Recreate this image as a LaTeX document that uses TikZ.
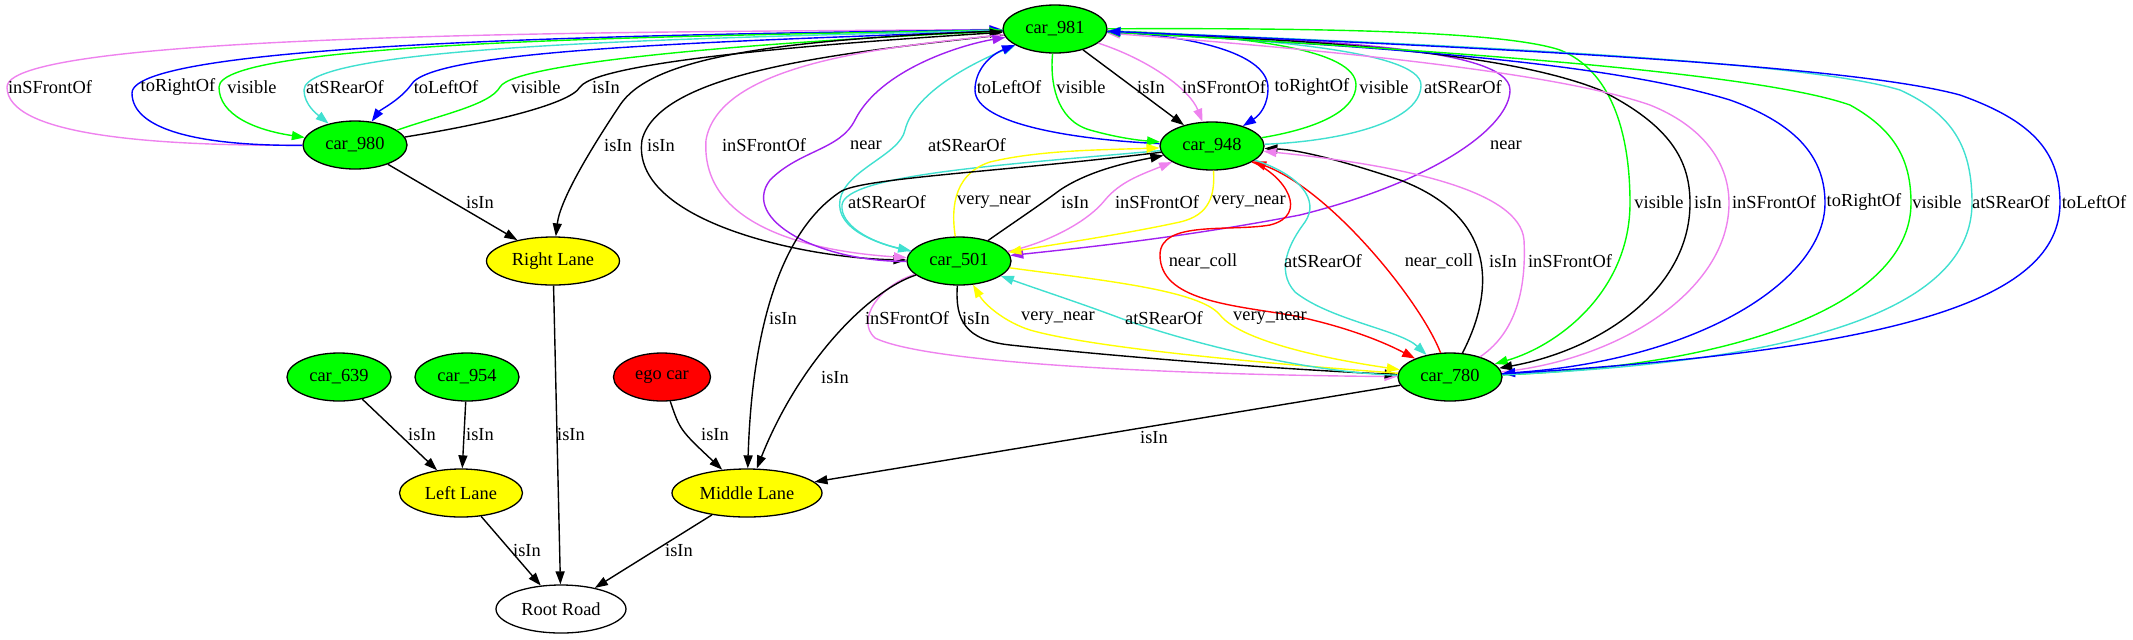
\documentclass[tikz,border=0pt]{standalone}
\usepackage{fontspec}
\setmainfont{Liberation Serif}
\usetikzlibrary{arrows.meta, shapes.geometric}
\definecolor{gvgreen}{RGB}{0,255,0}
\definecolor{gvyellow}{RGB}{255,255,0}
\definecolor{gvred}{RGB}{255,0,0}
\definecolor{gvblue}{RGB}{0,0,255}
\definecolor{gvviolet}{RGB}{238,130,238}
\definecolor{gvturq}{RGB}{64,224,208}
\definecolor{gvpurple}{RGB}{160,32,240}
\newcommand{\gvfont}{\fontsize{9.2}{11}\selectfont}
\tikzset{
  obj/.style  = {ellipse, draw, line width=0.65pt, inner sep=0pt,
                 minimum width=52pt, minimum height=24pt, font=\gvfont},
  car/.style  = {obj, fill=gvgreen},
  lane/.style = {obj, fill=gvyellow},
  rel/.style  = {->, >={Triangle[length=6.5pt, width=4.5pt]}, line width=0.7pt},
  lbl/.style  = {inner sep=0pt, font=\gvfont},
}

\begin{document}
\begin{tikzpicture}[x=0.5pt, y=-0.5pt]
  \useasboundingbox (0,0) rectangle (2133,639);
  % cars
  \foreach \n/\x/\y in {981/1055/29, 980/355/145, 948/1212/146, 501/959/261,
                        780/1450/377, 639/339/377, 954/467/377} {
    \node[car] (car\n) at (\x,\y) {car\_\n};
  }
  \node[obj, fill=gvred, minimum width=48.5pt] (ego) at (662,377) {ego car};
  % lanes and road
  \node[lane, minimum width=66.5pt] (rlane) at (553,261) {Right Lane};
  \node[lane, minimum width=61.5pt] (llane) at (461,493) {Left Lane};
  \node[lane, minimum width=75pt]   (mlane) at (747,493) {Middle Lane};
  \node[obj, fill=white, minimum width=65pt] (root) at (561,609) {Root Road};

  % car_980 <-> car_981
  \draw[rel, gvviolet] (car980) .. controls (150,146) and (7,135) .. (7,87) .. controls (7,30) and (700,32) .. (car981);
  \draw[rel, gvblue] (car980) .. controls (200,146) and (132,130) .. (132,93) .. controls (132,40) and (700,34) .. (car981);
  \draw[rel, gvgreen] (car981) .. controls (700,36) and (219,40) .. (219,87) .. controls (219,115) and (255,130) .. (car980);
  \draw[rel, gvturq] (car981) .. controls (700,38) and (304,45) .. (304,90) .. controls (304,105) and (318,115) .. (car980);
  \draw[rel, gvblue] (car981) .. controls (700,42) and (430,50) .. (411,85) .. controls (400,100) and (380,110) .. (car980);
  \draw[rel, gvgreen] (car980) .. controls (440,115) and (490,105) .. (500,87) .. controls (515,60) and (800,40) .. (car981);
  \draw[rel] (car980) .. controls (480,125) and (570,105) .. (580,87) .. controls (600,60) and (850,42) .. (car981);
  \foreach \x/\t [count=\i] in {50/inSFrontOf, 178/toRightOf, 252/visible, 345/atSRearOf,
                                446/toLeftOf, 536/visible, 606/isIn}
    \node[lbl] (la\i) at (\x,87) {\t};

  % car_981 -> Right Lane, car_501
  \draw[rel] (car981) .. controls (760,40) and (650,60) .. (620,105) .. controls (590,150) and (560,200) .. (rlane);
  \draw[rel] (car981) .. controls (850,52) and (660,70) .. (642,140) .. controls (630,220) and (800,258) .. (car501);
  \draw[rel, gvviolet] (car981) .. controls (900,46) and (720,60) .. (706,140) .. controls (700,230) and (820,252) .. (car501);
  \draw[rel, gvpurple] (car501) .. controls (820,262) and (740,220) .. (770,180) .. controls (800,150) and (840,150) .. (855,120) .. controls (880,70) and (960,45) .. (car981);
  \draw[rel, gvturq] (car501) .. controls (880,245) and (835,230) .. (840,200) .. controls (845,170) and (900,155) .. (905,130) .. controls (915,90) and (980,60) .. (car981);
  \draw[rel, gvpurple] (car981) .. controls (1300,40) and (1510,45) .. (1510,90) .. controls (1510,125) and (1440,180) .. (1300,215) .. controls (1180,238) and (1080,248) .. (car501);
  \foreach \x/\t [count=\i] in {618/isIn, 661/isIn, 764/inSFrontOf, 866/near, 967/atSRearOf, 1506/near}
    \node[lbl] (lb\i) at (\x,145) {\t};

  % car_981 <-> car_948
  \draw[rel, gvblue] (car948) .. controls (1080,140) and (975,125) .. (975,90) .. controls (975,70) and (990,55) .. (car981);
  \draw[rel, gvgreen] (car981) .. controls (1050,80) and (1055,120) .. (1090,130) .. controls (1115,137) and (1135,140) .. (car948);
  \draw[rel] (car981) -- (car948);
  \draw[rel, gvviolet] (car981) .. controls (1150,60) and (1190,90) .. (car948);
  \draw[rel, gvblue] (car981) .. controls (1200,36) and (1268,55) .. (1268,88) .. controls (1268,105) and (1260,115) .. (car948);
  \draw[rel, gvgreen] (car948) .. controls (1320,128) and (1356,110) .. (1356,85) .. controls (1356,50) and (1250,36) .. (car981);
  \draw[rel, gvturq] (car948) .. controls (1330,142) and (1421,125) .. (1421,85) .. controls (1421,50) and (1250,38) .. (car981);
  \foreach \x/\t [count=\i] in {1009/toLeftOf, 1081/visible, 1151/isIn, 1224/inSFrontOf,
                                1312/toRightOf, 1384/visible, 1463/atSRearOf}
    \node[lbl] (lc\i) at (\x,87) {\t};

  % car_501 <-> car_948
  \draw[rel, gvturq] (car948) .. controls (1000,165) and (845,175) .. (842,205) .. controls (840,225) and (870,242) .. (car501);
  \draw[rel, gvyellow] (car501) .. controls (952,215) and (950,175) .. (990,162) .. controls (1040,150) and (1100,150) .. (car948);
  \draw[rel] (car501) .. controls (1010,225) and (1040,205) .. (1060,190) .. controls (1090,170) and (1130,162) .. (car948);
  \draw[rel, gvviolet] (car501) .. controls (1040,245) and (1085,225) .. (1105,200) .. controls (1120,182) and (1140,175) .. (car948);
  \draw[rel, gvyellow] (car948) .. controls (1215,195) and (1210,215) .. (1180,222) .. controls (1120,235) and (1050,245) .. (car501);
  \draw[rel] (car948) .. controls (1000,172) and (860,178) .. (840,192) .. controls (780,232) and (752,330) .. (mlane);

  % car_981 <-> car_780
  \draw[rel, gvgreen] (car981) .. controls (1300,28) and (1500,30) .. (1560,50) .. controls (1610,70) and (1630,130) .. (1630,203) .. controls (1630,290) and (1560,345) .. (car780);
  \draw[rel] (car981) .. controls (1300,40) and (1500,50) .. (1600,90) .. controls (1670,125) and (1690,160) .. (1690,203) .. controls (1690,290) and (1600,350) .. (car780);
  \draw[rel, gvviolet] (car780) .. controls (1620,360) and (1729,290) .. (1729,203) .. controls (1729,160) and (1700,125) .. (1650,105) .. controls (1550,70) and (1300,48) .. (car981);
  \draw[rel, gvblue] (car981) .. controls (1350,45) and (1600,60) .. (1730,100) .. controls (1800,125) and (1825,160) .. (1825,203) .. controls (1825,280) and (1700,360) .. (car780);
  \draw[rel, gvgreen] (car780) .. controls (1750,365) and (1911,300) .. (1911,203) .. controls (1911,160) and (1895,130) .. (1850,105) .. controls (1750,70) and (1400,48) .. (car981);
  \draw[rel, gvturq] (car780) .. controls (1800,362) and (1972,310) .. (1972,203) .. controls (1972,150) and (1955,115) .. (1900,90) .. controls (1800,60) and (1450,45) .. (car981);
  \draw[rel, gvblue] (car780) .. controls (1900,350) and (2060,300) .. (2060,203) .. controls (2060,150) and (2030,120) .. (1960,95) .. controls (1850,65) and (1500,48) .. (car981);
  \foreach \x/\t [count=\i] in {480/isIn, 887/atSRearOf, 994/very\_near, 1075/isIn, 1157/inSFrontOf,
                                1249/very\_near, 1659/visible, 1708/isIn, 1774/inSFrontOf,
                                1864/toRightOf, 1937/visible, 2011/atSRearOf, 2094/toLeftOf}
    \node[lbl] (ld\i) at (\x,202) {\t};

  % car_948 <-> car_780
  \draw[rel, gvred] (car948) .. controls (1285,175) and (1310,215) .. (1270,225) .. controls (1230,232) and (1160,220) .. (1160,255) .. controls (1160,300) and (1230,305) .. (1290,315) .. controls (1340,325) and (1380,340) .. (car780);
  \draw[rel, gvred] (car780) .. controls (1420,300) and (1330,190) .. (car948);
  \draw[rel, gvturq] (car948) .. controls (1300,175) and (1320,200) .. (1305,222) .. controls (1290,242) and (1275,270) .. (1295,292) .. controls (1330,320) and (1400,330) .. (car780);
  \draw[rel] (car780) .. controls (1490,300) and (1505,220) .. (1400,180) .. controls (1340,160) and (1300,150) .. (car948);
  \draw[rel, gvviolet] (car780) .. controls (1520,330) and (1526,280) .. (1524,240) .. controls (1520,190) and (1400,165) .. (car948);
  \foreach \x/\t [count=\i] in {1203/near\_coll, 1323/atSRearOf, 1439/near\_coll, 1503/isIn, 1570/inSFrontOf}
    \node[lbl] (le\i) at (\x,261) {\t};

  % car_501 <-> car_780
  \draw[rel, gvviolet] (car501) .. controls (880,285) and (855,320) .. (875,338) .. controls (930,365) and (1200,375) .. (car780);
  \draw[rel] (car501) .. controls (955,320) and (965,340) .. (1010,345) .. controls (1150,360) and (1300,370) .. (car780);
  \draw[rel, gvyellow] (car780) .. controls (1300,366) and (1100,350) .. (1030,330) .. controls (1005,322) and (985,305) .. (car501);
  \draw[rel, gvturq] (car780) .. controls (1300,372) and (1180,340) .. (1120,318) .. controls (1080,303) and (1040,290) .. (car501);
  \draw[rel, gvyellow] (car501) .. controls (1100,280) and (1200,290) .. (1220,315) .. controls (1240,340) and (1320,358) .. (car780);
  \foreach \x/\t [count=\i] in {783/isIn, 907/inSFrontOf, 976/isIn, 1058/very\_near, 1164/atSRearOf, 1270/very\_near}
    \node[lbl] (lf\i) at (\x,318) {\t};

  % isIn to lanes and road
  \draw[rel] (car980) -- (rlane);
  \draw[rel] (car780) -- (mlane);
  \draw[rel] (car501) .. controls (870,290) and (800,360) .. (mlane);
  \draw[rel] (car639) -- (llane);
  \draw[rel] (car954) -- (llane);
  \draw[rel] (ego) .. controls (680,430) .. (mlane);
  \draw[rel] (rlane) -- (root);
  \draw[rel] (llane) -- (root);
  \draw[rel] (mlane) -- (root);
  \foreach \x/\y [count=\i] in {835/377, 422/434, 480/434, 571/434, 715/434, 1154/437, 527/550, 679/550}
    \node[lbl] (lg\i) at (\x,\y) {isIn};
\end{tikzpicture}
\end{document}
